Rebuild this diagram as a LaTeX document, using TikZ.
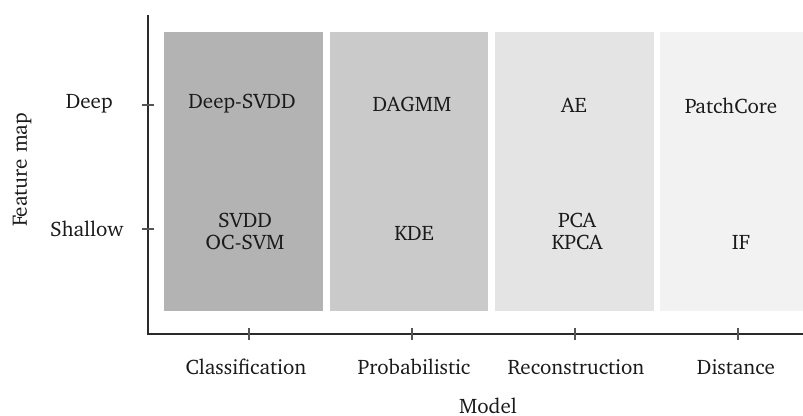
\documentclass[tikz,border=0pt]{standalone}
\usepackage[T1]{fontenc}
\usepackage{charter}
\definecolor{clsfill}{HTML}{B3B3B3}
\definecolor{probfill}{HTML}{CACACA}
\definecolor{recfill}{HTML}{E4E4E4}
\definecolor{distfill}{HTML}{F2F2F2}
\definecolor{axiscol}{HTML}{2A2A2A}
\definecolor{tickcol}{HTML}{555555}
\definecolor{txtcol}{HTML}{1A1A1A}
\tikzset{
  lbl/.style={inner sep=0pt, text=txtcol, font=\fontsize{10.5}{11}\selectfont, align=center},
  axisline/.style={draw=axiscol, line width=0.6pt},
  tickline/.style={draw=tickcol, line width=0.6pt},
}
\begin{document}
\begin{tikzpicture}[x=0.5pt, y=-0.5pt]
\useasboundingbox (0,0) rectangle (803,416);
% category columns
\fill[clsfill]  (164,32) rectangle (323,311);
\fill[probfill] (330,32) rectangle (488,311);
\fill[recfill]  (495,32) rectangle (654,311);
\fill[distfill] (660,32) rectangle (803,311);
% axes
\coordinate (ytop) at (148,15);
\coordinate (orig) at (148,334);
\coordinate (xend) at (803,334);
\draw[axisline] (ytop) -- (orig) -- (xend);
% y ticks
\coordinate (yt1) at (148,105);
\coordinate (yt2) at (148,229);
\draw[tickline] ([xshift=-3pt]yt1) -- ([xshift=3pt]yt1);
\draw[tickline] ([xshift=-3pt]yt2) -- ([xshift=3pt]yt2);
% x ticks
\foreach \n/\x in {1/249,2/412,3/575,4/738}{
  \coordinate (xt\n) at (\x,334);
  \draw[tickline] ([yshift=3.2pt]xt\n) -- ([yshift=-3.2pt]xt\n);
}
% y tick labels
\node[lbl, anchor=east] (deep) at (113,104) {Deep};
\node[lbl, anchor=east] (shallow) at (124,229) {Shallow};
\node[lbl, rotate=90] (ylab) at (22,170) {Feature map};
% x tick labels
\node[lbl] (cls) at (246,367) {Classification};
\node[lbl] (prob) at (414,367) {Probabilistic};
\node[lbl] (rec) at (576,367) {Reconstruction};
\node[lbl] (dist) at (736,367) {Distance};
\node[lbl] (xlab) at (488,406) {Model};
% methods, deep row
\node[lbl] (dsvdd) at (242,104) {Deep-SVDD};
\node[lbl] (dagmm) at (412,104) {DAGMM};
\node[lbl] (ae) at (574,105) {AE};
\node[lbl] (pcore) at (731,106) {PatchCore};
% methods, shallow row
\node[lbl] (svdd) at (245,231) {SVDD\\OC-SVM};
\node[lbl] (kde) at (414,233) {KDE};
\node[lbl] (pca) at (577,231) {PCA\\KPCA};
\node[lbl] (iforest) at (741,242) {IF};
\end{tikzpicture}
\end{document}
